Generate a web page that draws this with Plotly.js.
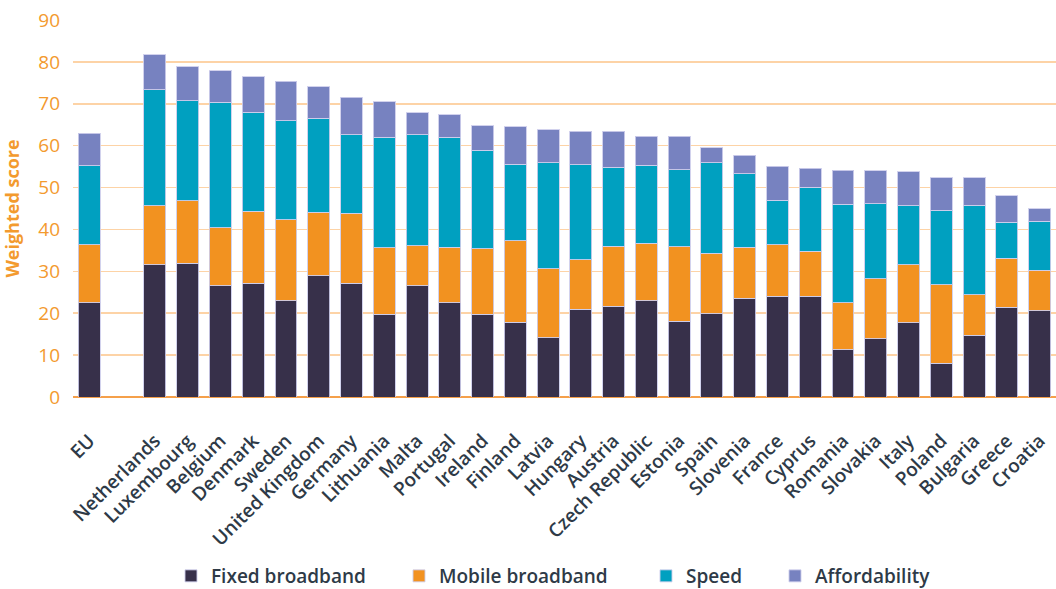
<!DOCTYPE html>
<html>
<head>
<meta charset="utf-8">
<script src="https://cdn.plot.ly/plotly-3.0.1.min.js"></script>
<style>html,body{margin:0;padding:0;background:#fff;}#chart{width:1056px;height:589px;}</style>
</head>
<body>
<div id="chart"></div>
<script>
const categories = ["EU", " ", "Netherlands", "Luxembourg", "Belgium", "Denmark", "Sweden", "United Kingdom", "Germany", "Lithuania", "Malta", "Portugal", "Ireland", "Finland", "Latvia", "Hungary", "Austria", "Czech Republic", "Estonia", "Spain", "Slovenia", "France", "Cyprus", "Romania", "Slovakia", "Italy", "Poland", "Bulgaria", "Greece", "Croatia"];
const fixedBroadband = [22.5, null, 31.6, 31.9, 26.6, 27.2, 23.0, 28.9, 27.2, 19.7, 26.5, 22.5, 19.7, 17.8, 14.2, 20.9, 21.7, 23.0, 18.1, 19.9, 23.6, 24.0, 24.0, 11.3, 13.9, 17.7, 8.0, 14.7, 21.4, 20.6];
const mobileBroadband = [13.9, null, 14.0, 15.0, 13.8, 17.2, 19.3, 15.2, 16.7, 15.9, 9.6, 13.2, 15.7, 19.5, 16.4, 11.9, 14.3, 13.7, 17.8, 14.4, 12.2, 12.3, 10.8, 11.2, 14.3, 13.9, 18.8, 9.7, 11.7, 9.7];
const speed = [18.8, null, 27.8, 23.8, 30.0, 23.6, 23.6, 22.4, 18.7, 26.4, 26.5, 26.3, 23.5, 18.3, 25.3, 22.6, 18.9, 18.6, 18.3, 21.6, 17.5, 10.7, 15.3, 23.5, 17.9, 14.1, 17.8, 21.4, 8.6, 11.7];
const affordability = [7.8, null, 8.3, 8.1, 7.5, 8.4, 9.5, 7.6, 8.9, 8.5, 5.2, 5.4, 5.8, 8.9, 7.9, 8.1, 8.6, 7.0, 8.0, 3.6, 4.4, 8.1, 4.5, 8.1, 7.9, 8.1, 7.8, 6.5, 6.3, 2.9];
const seriesNames = ["Fixed broadband", "Mobile broadband", "Speed", "Affordability"];
const yTicks = [0, 10, 20, 30, 40, 50, 60, 70, 80, 90];

const colors = ["#37304a", "#f29220", "#00a0c0", "#7782c0"];
const legendIds = ["legend", "legend2", "legend3", "legend4"];
const legendX = [171, 399, 646, 775];
const allSeries = [fixedBroadband, mobileBroadband, speed, affordability];
const traces = allSeries.map((vals, i) => ({
  type: "bar",
  name: seriesNames[i],
  x: categories,
  y: vals,
  legend: legendIds[i],
  marker: { color: colors[i], line: { color: "rgba(205,205,235,0.9)", width: 1 } },
  hoverinfo: "x+y+name"
}));

const font = "'Open Sans', 'Noto Sans', sans-serif";
const layout = {
  width: 1056,
  height: 589,
  barmode: "stack",
  bargap: 0.33,
  margin: { l: 73, r: 0, t: 20, b: 192, pad: 0 },
  paper_bgcolor: "#fff",
  plot_bgcolor: "#fff",
  font: { family: font, color: "#2e3a47" },
  xaxis: {
    type: "category",
    categoryorder: "array",
    categoryarray: categories,
    tickangle: -45,
    tickfont: { family: font, size: 19, color: "#2e3a47", weight: 600 },
    showgrid: false,
    ticks: "",
    ticklabelstandoff: 28,
    showline: false,
    zeroline: false,
    fixedrange: true
  },
  yaxis: {
    range: [0, 90],
    tickvals: yTicks,
    ticktext: yTicks.map(String),
    tickfont: { family: font, size: 19, color: "#f39a2e" },
    showgrid: true,
    gridcolor: "#fdd3a6",
    gridwidth: 1.5,
    zeroline: true,
    zerolinecolor: "#f5a04a",
    zerolinewidth: 2,
    ticks: "",
    ticklabelstandoff: 12,
    title: { text: "Weighted score", font: { family: font, size: 18, color: "#f39a2e", weight: 700 }, standoff: 14 },
    fixedrange: true
  },
  showlegend: true
};
legendIds.forEach((id, i) => {
  layout[id] = {
    orientation: "h",
    x: legendX[i] / 1056,
    xref: "container",
    xanchor: "left",
    y: 1 - 576 / 589,
    yref: "container",
    yanchor: "middle",
    font: { family: font, size: 19, color: "#2e3a47", weight: 600 },
    bgcolor: "rgba(0,0,0,0)",
    itemclick: false
  };
});

Plotly.newPlot("chart", traces, layout, { displayModeBar: false, staticPlot: true });
</script>
</body>
</html>
